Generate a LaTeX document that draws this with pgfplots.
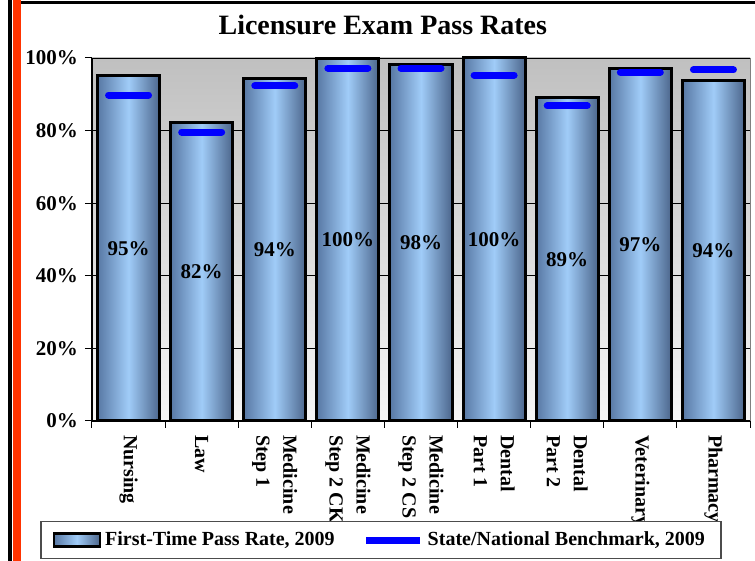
\documentclass[border=0pt]{standalone}
\usepackage{fontspec}
\setmainfont{Liberation Serif}
\usepackage{pgfplots}
\pgfplotsset{compat=1.18}
\definecolor{barleft}{RGB}{88,120,164}
\definecolor{barmid}{RGB}{160,204,248}
\definecolor{barright}{RGB}{76,102,140}
\definecolor{framered}{RGB}{255,51,0}
\definecolor{bgtop}{RGB}{192,192,192}
\definecolor{bgbot}{RGB}{246,246,246}

% one plot per bar, so that each bar gets its own shading
\pgfplotsset{passbar/.style={ybar, bar width=0.85, draw=black, line width=1.5pt,
  left color=barleft, right color=barright, middle color=barmid,
  visualization depends on=y \as \rawy,
  nodes near coords={\pgfmathprintnumber[fixed,precision=0]{\pgfplotspointmeta}\%},
  every node near coord/.append style={font=\fontsize{10.5}{12}\selectfont\bfseries,
    text=black, anchor=center, shift={(axis direction cs:0,-\rawy/2)}},
  legend image code/.code={\draw[black, line width=1.2pt, left color=barleft,
    right color=barright, middle color=barmid] (0pt,-3.3pt) rectangle (23pt,3.3pt);}}}

\begin{document}
\begin{tikzpicture}
\useasboundingbox (0,0) rectangle (377.5pt,280.5pt);
\fill[white] (0,0) rectangle (377.5pt,280.5pt);
% slide frame
\draw[black, line width=1.5pt] (10pt,279.2pt) -- (377.5pt,279.2pt);
\fill[black] (4.1pt,0) rectangle (5.9pt,280.5pt);
\fill[framered] (6.6pt,0) rectangle (10.4pt,280.5pt);

\begin{axis}[
  at={(46pt,70pt)}, anchor=south west,
  width=329pt, height=181.5pt, scale only axis,
  xmin=-0.5, xmax=8.5, ymin=0, ymax=100,
  clip=false,
  axis x line*=bottom, axis y line*=left,
  axis line style={black, line width=0.8pt},
  axis background/.style={draw=gray, top color=bgtop, bottom color=bgbot},
  ytick={0,20,...,100},
  yticklabel={\pgfmathprintnumber{\tick}\%},
  ymajorgrids, grid style={black, line width=0.4pt},
  xtick={-0.5,0.5,...,8.5},
  x tick label as interval,
  xticklabels={Nursing,Law,{Medicine\\Step 1},{Medicine\\Step 2 CK},{Medicine\\Step 2 CS},{Dental\\Part 1},{Dental\\Part 2},Veterinary,Pharmacy},
  tick align=outside, major tick length=3.5pt,
  tick style={black, line width=0.5pt},
  /pgf/number format/assume math mode=true,
  yticklabel style={font=\fontsize{10.5}{12}\selectfont\bfseries},
  xticklabel style={font=\fontsize{10}{13.5}\selectfont\bfseries, rotate=-90, anchor=west, align=left},
  title={Licensure Exam Pass Rates},
  title style={font=\fontsize{14}{16}\selectfont\bfseries, at={(0.442,1)}, anchor=center, yshift=10.5pt},
  legend columns=2,
  legend cell align=left,
  legend style={at={(0.439,-0.328)}, anchor=center, draw=gray!60!black, line width=0.8pt,
    fill=white, font=\fontsize{10}{12}\selectfont\bfseries,
    /tikz/every even column/.append style={column sep=12pt},
    inner xsep=6pt, inner ysep=3pt},
]
\addplot[passbar] coordinates {(0,95.2)};
\addlegendentry{First-Time Pass Rate, 2009}
\addplot[passbar, forget plot] coordinates {(1,82.2)};
\addplot[passbar, forget plot] coordinates {(2,94.4)};
\addplot[passbar, forget plot] coordinates {(3,99.8)};
\addplot[passbar, forget plot] coordinates {(4,98.2)};
\addplot[passbar, forget plot] coordinates {(5,100)};
\addplot[passbar, forget plot] coordinates {(6,89.0)};
\addplot[passbar, forget plot] coordinates {(7,97.1)};
\addplot[passbar, forget plot] coordinates {(8,93.9)};
\addplot[only marks, mark=-, mark size=10pt,
  mark options={blue, line width=3.5pt, line cap=round},
  legend image code/.code={\draw[blue, line width=3.5pt] (0pt,0pt) -- (27pt,0pt);}]
  coordinates {(0,89.8) (1,79.6) (2,92.3) (3,97.2) (4,97.2) (5,95.3) (6,86.8) (7,96.1) (8,96.7)};
\addlegendentry{State/National Benchmark, 2009}
\end{axis}
\end{tikzpicture}
\end{document}
